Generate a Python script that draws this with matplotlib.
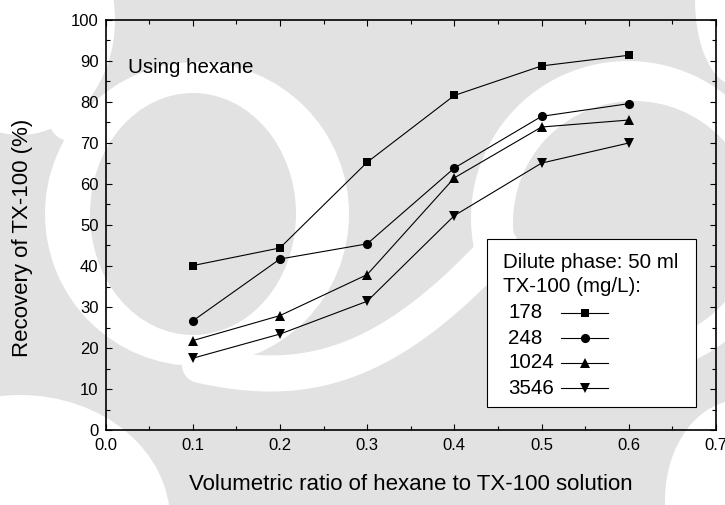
import numpy as np
import matplotlib
matplotlib.use("Agg")
import matplotlib.pyplot as plt
from matplotlib.patches import Circle, Ellipse, Polygon, Rectangle
from matplotlib.lines import Line2D
from matplotlib.ticker import MultipleLocator, FormatStrFormatter

plt.rcParams['font.family'] = ['Liberation Sans', 'DejaVu Sans']

# Recovery of TX-100 versus hexane / solution volume ratio
ratio = [0.1, 0.2, 0.3, 0.4, 0.5, 0.6]
conc_labels = ['178', '248', '1024', '3546']
rec_178 = [40.1, 44.4, 65.3, 81.6, 88.8, 91.4]
rec_248 = [26.6, 41.7, 45.4, 63.9, 76.5, 79.6]
rec_1024 = [21.8, 27.9, 37.9, 61.5, 73.9, 75.6]
rec_3546 = [17.5, 23.4, 31.4, 52.3, 65.1, 70.0]
series = [rec_178, rec_248, rec_1024, rec_3546]
markers = ['s', 'o', '^', 'v']
msizes = [6.0, 6.6, 7.2, 7.2]

W, H = 725, 505
fig = plt.figure(figsize=(W / 100, H / 100), dpi=100)
fig.patch.set_facecolor('white')

# faint background emblem (pixel coordinates, y downwards)
bg = fig.add_axes([0, 0, 1, 1], zorder=-10)
bg.set_xlim(0, W)
bg.set_ylim(H, 0)
bg.axis('off')
grey = '#e2e2e2'
bg.add_patch(Rectangle((0, 0), W, H, color=grey, lw=0))
# left swirl: white ring around a grey disc, opening to the top-left corner
bg.add_patch(Circle((197, 214), 152, color='white', lw=0))
bg.add_patch(Ellipse((20, 20), 190, 230, color='white', lw=0))
bg.plot([45, 60, 70], [0, 60, 120], color='white', lw=30, solid_capstyle='round')
bg.add_patch(Ellipse((193, 214), 206, 242, color=grey, lw=0))
# band joining the two swirls below the left disc
t = np.linspace(0, 1, 40)
bx = 200 + 300 * t
by = 365 + 20 * np.sin(np.pi * t) - 120 * t ** 2.2
bg.plot(bx, by, color='white', lw=26, solid_capstyle='round')
# right swirl
bg.add_patch(Circle((628, 218), 157, color='white', lw=0))
bg.add_patch(Circle((634, 222), 121, color=grey, lw=0))
# corners
bg.add_patch(Ellipse((20, 520), 300, 250, color='white', lw=0))
bg.add_patch(Ellipse((740, 500), 150, 200, color='white', lw=0))
bg.add_patch(Ellipse((735, 0), 80, 170, color='white', lw=0))

ax = fig.add_axes([105.5 / W, 1 - 430 / H, 610.5 / W, 410 / H], zorder=1)
ax.set_facecolor('none')

for vals, m, ms in zip(series, markers, msizes):
    ax.plot(ratio, vals, color='black', lw=0.8, marker=m, ms=ms,
            markerfacecolor='black', markeredgecolor='black', markeredgewidth=0)

ax.set_xlim(0.0, 0.7)
ax.set_ylim(0, 100)
ax.xaxis.set_major_locator(MultipleLocator(0.1))
ax.xaxis.set_minor_locator(MultipleLocator(0.05))
ax.yaxis.set_major_locator(MultipleLocator(10))
ax.yaxis.set_minor_locator(MultipleLocator(5))
ax.xaxis.set_major_formatter(FormatStrFormatter('%.1f'))
ax.tick_params(which='both', direction='in', top=True, right=True, width=0.8, labelsize=12)
ax.tick_params(which='major', length=4.5)
ax.tick_params(which='minor', length=2.6)
ax.tick_params(axis='x', pad=6)
ax.tick_params(axis='y', pad=5)
for s in ax.spines.values():
    s.set_linewidth(1.2)

ax.set_xlabel('Volumetric ratio of hexane to TX-100 solution', fontsize=16)
ax.xaxis.set_label_coords(0.5, -0.108)
ax.set_ylabel('Recovery of TX-100 (%)', fontsize=16)
ax.yaxis.set_label_coords(-0.118, 0.468)

ax.text(0.037, 0.883, 'Using hexane', transform=ax.transAxes, fontsize=14.8,
        ha='left', va='center')

# legend box: title lines, then each concentration followed by its symbol
def ax_x(px):
    return (px - 105.5) / 610.5

def ax_y(py):
    return (430 - py) / 410

ax.add_patch(Rectangle((ax_x(487), ax_y(407)), ax_x(696) - ax_x(487), ax_y(239) - ax_y(407),
                       transform=ax.transAxes, facecolor='white', edgecolor='black',
                       lw=0.8, zorder=3))
ax.text(ax_x(503), ax_y(262), 'Dilute phase: 50 ml', transform=ax.transAxes,
        fontsize=14.8, ha='left', va='center', zorder=4)
ax.text(ax_x(503), ax_y(287), 'TX-100 (mg/L):', transform=ax.transAxes,
        fontsize=14.8, ha='left', va='center', zorder=4)
row_y = [313, 338, 363, 388]
for lab, m, ms, py in zip(conc_labels, markers, msizes, row_y):
    ax.text(ax_x(508), ax_y(py), lab, transform=ax.transAxes, fontsize=14.8,
            ha='left', va='center', zorder=4)
    ax.add_line(Line2D([ax_x(561), ax_x(608)], [ax_y(py), ax_y(py)], transform=ax.transAxes,
                       color='black', lw=0.8, zorder=4))
    ax.add_line(Line2D([ax_x(585)], [ax_y(py)], transform=ax.transAxes, marker=m,
                       ms=ms, color='black', markeredgewidth=0, zorder=5))

fig.savefig('out.png', dpi=100)
